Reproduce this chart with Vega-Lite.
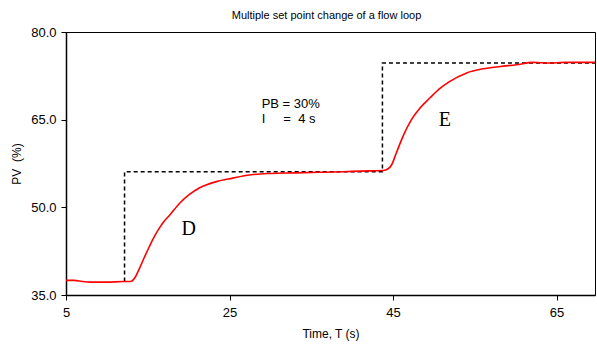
{
  "$schema": "https://vega.github.io/schema/vega-lite/v6.json",
  "width": 529,
  "height": 263,
  "autosize": {"type": "none"},
  "padding": {"left": 66, "top": 32, "right": 2, "bottom": 52},
  "background": "white",
  "title": {"text": "Multiple set point change of a flow loop", "font": "Liberation Sans", "fontSize": 11, "fontWeight": "normal", "color": "#000", "offset": 5, "dx": -4},
  "config": {
    "view": {"stroke": "#000", "strokeWidth": 1},
    "axis": {"labelFont": "Liberation Sans", "titleFont": "Liberation Sans", "labelFontSize": 13, "titleFontSize": 12, "titleFontWeight": "normal", "labelColor": "#000", "titleColor": "#000", "domainColor": "#000", "tickColor": "#000", "grid": false, "tickSize": 5, "domainWidth": 1.5, "labelFlush": false}
  },
  "datasets": {
    "pv": [
      {"t": 5, "pv": 37.5}, {"t": 6, "pv": 37.5}, {"t": 7, "pv": 37.3}, {"t": 8, "pv": 37.2}, {"t": 10, "pv": 37.2},
      {"t": 12, "pv": 37.3}, {"t": 12.9, "pv": 37.3}, {"t": 13.4, "pv": 37.9}, {"t": 14.0, "pv": 39.6}, {"t": 14.6, "pv": 41.5},
      {"t": 15.2, "pv": 43.3}, {"t": 15.8, "pv": 45.0}, {"t": 16.4, "pv": 46.4}, {"t": 17.0, "pv": 47.6}, {"t": 17.7, "pv": 48.7},
      {"t": 18.9, "pv": 50.7}, {"t": 20.1, "pv": 52.2}, {"t": 21.3, "pv": 53.3}, {"t": 23.4, "pv": 54.4}, {"t": 25.4, "pv": 55.0},
      {"t": 27.2, "pv": 55.5}, {"t": 30, "pv": 55.8}, {"t": 33, "pv": 55.9}, {"t": 36, "pv": 56.0}, {"t": 39, "pv": 56.1},
      {"t": 41, "pv": 56.2}, {"t": 43.8, "pv": 56.3}, {"t": 44.4, "pv": 56.6}, {"t": 44.8, "pv": 57.2}, {"t": 45.4, "pv": 59.3},
      {"t": 46.2, "pv": 62.1}, {"t": 47.25, "pv": 65.0}, {"t": 48.3, "pv": 67.0}, {"t": 49.5, "pv": 68.7}, {"t": 50.7, "pv": 70.3},
      {"t": 51.9, "pv": 71.5}, {"t": 54.0, "pv": 73.0}, {"t": 56.0, "pv": 73.7}, {"t": 58.1, "pv": 74.1}, {"t": 60.1, "pv": 74.4},
      {"t": 62.1, "pv": 74.8}, {"t": 64.2, "pv": 74.7}, {"t": 66, "pv": 74.8}, {"t": 69.7, "pv": 74.8}
    ],
    "sp": [
      {"i": 1, "t": 12.16, "sp": 37.3}, {"i": 2, "t": 12.16, "sp": 56.1}, {"i": 3, "t": 43.7, "sp": 56.1},
      {"i": 4, "t": 43.7, "sp": 74.7}, {"i": 5, "t": 69.7, "sp": 74.7}
    ],
    "notes": [
      {"t": 28.93, "y": 67.72, "label": "PB = 30%"},
      {"t": 28.93, "y": 65.07, "label": "I\u00a0\u00a0\u00a0\u00a0\u00a0=\u00a0\u00a04 s"}
    ],
    "letters": [
      {"t": 20.0, "y": 46.37, "label": "D"},
      {"t": 51.33, "y": 64.95, "label": "E"}
    ]
  },
  "layer": [
    {
      "data": {"name": "sp"},
      "mark": {"type": "line", "color": "#000", "strokeDash": [4, 3], "strokeWidth": 1.5},
      "encoding": {
        "x": {"field": "t", "type": "quantitative", "scale": {"domain": [5, 69.7], "nice": false, "zero": false}, "axis": {"values": [5, 25, 45, 65], "title": "Time, T (s)", "labelPadding": 6, "titlePadding": 9}},
        "y": {"field": "sp", "type": "quantitative", "scale": {"domain": [35, 80], "nice": false, "zero": false}, "axis": {"values": [35, 50, 65, 80], "format": ".1f", "title": "PV\u00a0\u00a0(%)", "labelPadding": 5, "titlePadding": 7}},
        "order": {"field": "i", "type": "quantitative"}
      }
    },
    {
      "data": {"name": "pv"},
      "mark": {"type": "line", "color": "#ff0000", "strokeWidth": 1.6, "interpolate": "monotone"},
      "encoding": {
        "x": {"field": "t", "type": "quantitative"},
        "y": {"field": "pv", "type": "quantitative"}
      }
    },
    {
      "data": {"name": "notes"},
      "mark": {"type": "text", "align": "left", "baseline": "middle", "font": "Liberation Sans", "fontSize": 13, "color": "#000"},
      "encoding": {
        "x": {"field": "t", "type": "quantitative"},
        "y": {"field": "y", "type": "quantitative"},
        "text": {"field": "label"}
      }
    },
    {
      "data": {"name": "letters"},
      "mark": {"type": "text", "align": "center", "baseline": "middle", "font": "Liberation Serif", "fontSize": 20, "color": "#000"},
      "encoding": {
        "x": {"field": "t", "type": "quantitative"},
        "y": {"field": "y", "type": "quantitative"},
        "text": {"field": "label"}
      }
    }
  ]
}
